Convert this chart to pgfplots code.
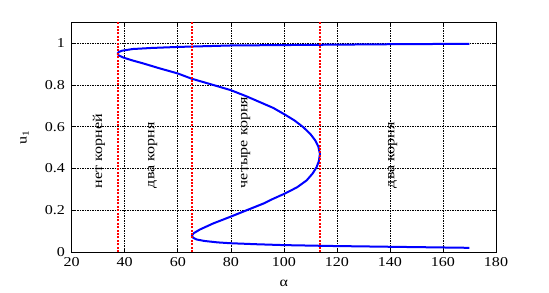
\documentclass[border=0pt]{standalone}
\usepackage{pgfplots}
\pgfplotsset{compat=1.18}
\usepackage{fontspec}
\setmainfont[FakeStretch=1.18]{Liberation Serif}
\begin{document}
\fontsize{13.6bp}{16bp}\selectfont
\begin{tikzpicture}
\begin{axis}[
  scale only axis,
  width=424.3bp, height=229.7bp,
  xmin=20, xmax=180, ymin=0, ymax=1.1,
  xtick={20,40,...,180},
  ytick={0,0.2,...,1.0},
  yticklabels={0,0.2,0.4,0.6,0.8,1},
  tick align=inside,
  major tick length=4bp,
  tick style={black, line width=0.6bp},
  axis line style={black, line width=0.9bp},
  grid=major,
  major grid style={black, line width=0.6bp, dash pattern=on 2bp off 1.2bp on 0.6bp off 1.2bp},
  /pgf/number format/assume math mode=true,
  ticklabel style={font=\fontsize{13.6bp}{16bp}\selectfont},
  xticklabel style={yshift=-1bp},
  yticklabel style={xshift=-2bp},
  xlabel={α},
  ylabel={u\textsubscript{1}},
  label style={font=\fontsize{13.6bp}{16bp}\selectfont},
  xlabel style={at={(axis description cs:0.5,0)}, anchor=center, yshift=-31bp},
  ylabel style={at={(axis description cs:0,0.5)}, anchor=center, yshift=47bp},
  clip=false,
]
\addplot[blue, line width=2bp, line join=round] coordinates {
(170,0.997) (140,0.995) (120,0.993) (100,0.991) (80,0.989) (60,0.982)
(50,0.977) (43,0.972) (39,0.964) (37.8,0.958) (37.3,0.950) (37.8,0.941)
(39.5,0.931) (43,0.917) (47,0.903) (53,0.880) (60,0.855) (65.2,0.830)
(72,0.805) (80,0.775) (86,0.745) (92,0.712) (96,0.690) (100.4,0.658)
(104,0.630) (107.3,0.598) (110,0.565) (111.8,0.535) (113,0.505) (113.6,0.47)
(113.2,0.435) (112.3,0.405) (110.8,0.375) (108.6,0.343) (105,0.31) (100.4,0.280)
(96,0.255) (92.3,0.232) (86,0.200) (79.7,0.168) (73.4,0.137) (68.4,0.108)
(66,0.090) (65.3,0.078) (65.8,0.068) (67.1,0.060) (70,0.053) (75,0.046)
(80,0.042) (90,0.037) (100,0.033) (117,0.029) (140,0.025) (170,0.020)
};
\addplot[red, line width=2bp, dash pattern=on 2bp off 1.4bp] coordinates {(37.3,0) (37.3,1.1)};
\addplot[red, line width=2bp, dash pattern=on 2bp off 1.4bp] coordinates {(65.3,0) (65.3,1.1)};
\addplot[red, line width=2bp, dash pattern=on 2bp off 1.4bp] coordinates {(113.6,0) (113.6,1.1)};
\node[rotate=90, anchor=west, inner sep=0pt] at (axis cs:30.3,0.305) {нет корней};
\node[rotate=90, anchor=west, inner sep=0pt] at (axis cs:50.5,0.305) {два корня};
\node[rotate=90, anchor=west, inner sep=0pt] at (axis cs:85.6,0.305) {четыре корня};
\node[rotate=90, anchor=west, inner sep=0pt] at (axis cs:141,0.305) {два корня};
\end{axis}
\pgfresetboundingbox
\path[use as bounding box] (-71.7bp,-41bp) rectangle (477.3bp,252bp);
\end{tikzpicture}
\end{document}
